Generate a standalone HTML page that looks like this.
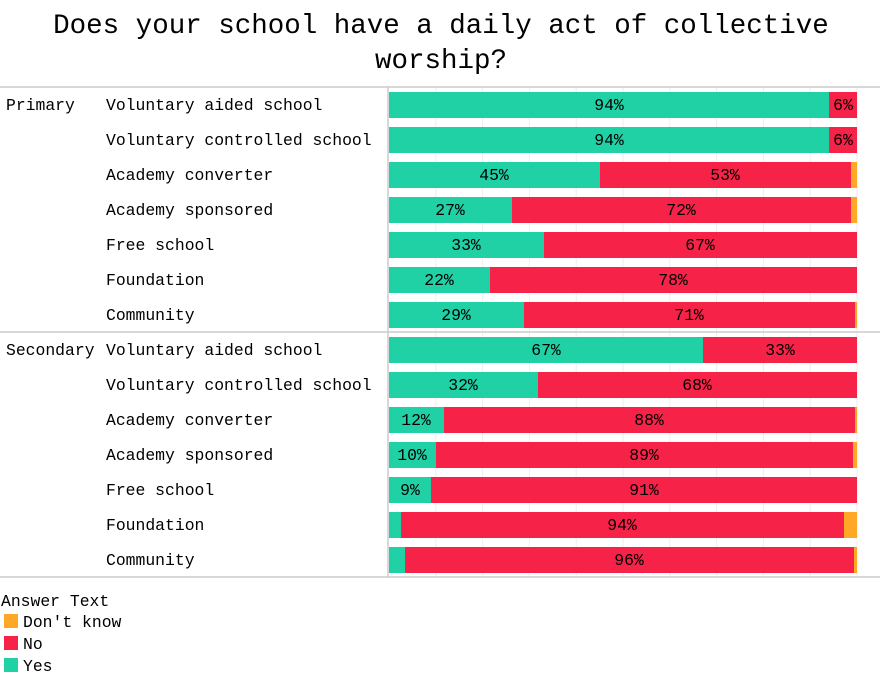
<!DOCTYPE html>
<html><head><meta charset="utf-8"><style>
html,body{margin:0;padding:0;background:#fff;}
svg{display:block;font-family:"Liberation Mono","DejaVu Sans Mono",monospace;}
</style></head><body>
<svg width="882" height="677" xmlns="http://www.w3.org/2000/svg">
<text x="441" y="33" font-size="27.5" text-anchor="middle" fill="#000">Does your school have a daily act of collective</text>
<text x="441" y="68" font-size="27.5" text-anchor="middle" fill="#000">worship?</text>
<g stroke="#eeeeee" stroke-width="1">
<line x1="435.8" y1="88" x2="435.8" y2="577"/><line x1="482.6" y1="88" x2="482.6" y2="577"/>
<line x1="529.4" y1="88" x2="529.4" y2="577"/><line x1="576.2" y1="88" x2="576.2" y2="577"/>
<line x1="623" y1="88" x2="623" y2="577"/><line x1="669.8" y1="88" x2="669.8" y2="577"/>
<line x1="716.6" y1="88" x2="716.6" y2="577"/><line x1="763.4" y1="88" x2="763.4" y2="577"/>
<line x1="810.2" y1="88" x2="810.2" y2="577"/><line x1="857" y1="88" x2="857" y2="577"/>
</g>
<g stroke="#cccccc" stroke-width="1.5">
<line x1="0" y1="87" x2="880" y2="87"/>
<line x1="0" y1="332" x2="880" y2="332"/>
<line x1="0" y1="577" x2="880" y2="577"/>
<line x1="388" y1="87" x2="388" y2="577"/>
</g>
<g font-size="16.4" fill="#000">
<text x="6" y="110">Primary</text>
<text x="6" y="355">Secondary</text>
<text x="106" y="110">Voluntary aided school</text>
<text x="106" y="145">Voluntary controlled school</text>
<text x="106" y="180">Academy converter</text>
<text x="106" y="215">Academy sponsored</text>
<text x="106" y="250">Free school</text>
<text x="106" y="285">Foundation</text>
<text x="106" y="320">Community</text>
<text x="106" y="355">Voluntary aided school</text>
<text x="106" y="390">Voluntary controlled school</text>
<text x="106" y="425">Academy converter</text>
<text x="106" y="460">Academy sponsored</text>
<text x="106" y="495">Free school</text>
<text x="106" y="530">Foundation</text>
<text x="106" y="565">Community</text>
</g>
<g>
<!-- Primary -->
<rect x="389" y="92" width="440" height="26" fill="#1fd1a5"/><rect x="829" y="92" width="28" height="26" fill="#f72248"/>
<rect x="389" y="127" width="440" height="26" fill="#1fd1a5"/><rect x="829" y="127" width="28" height="26" fill="#f72248"/>
<rect x="389" y="162" width="211" height="26" fill="#1fd1a5"/><rect x="600" y="162" width="251" height="26" fill="#f72248"/><rect x="851" y="162" width="6" height="26" fill="#ffa726"/>
<rect x="389" y="197" width="123" height="26" fill="#1fd1a5"/><rect x="512" y="197" width="339" height="26" fill="#f72248"/><rect x="851" y="197" width="6" height="26" fill="#ffa726"/>
<rect x="389" y="232" width="155" height="26" fill="#1fd1a5"/><rect x="544" y="232" width="313" height="26" fill="#f72248"/>
<rect x="389" y="267" width="101" height="26" fill="#1fd1a5"/><rect x="490" y="267" width="367" height="26" fill="#f72248"/>
<rect x="389" y="302" width="135" height="26" fill="#1fd1a5"/><rect x="524" y="302" width="331" height="26" fill="#f72248"/><rect x="855" y="302" width="2" height="26" fill="#ffa726"/>
<!-- Secondary -->
<rect x="389" y="337" width="314" height="26" fill="#1fd1a5"/><rect x="703" y="337" width="154" height="26" fill="#f72248"/>
<rect x="389" y="372" width="149" height="26" fill="#1fd1a5"/><rect x="538" y="372" width="319" height="26" fill="#f72248"/>
<rect x="389" y="407" width="55" height="26" fill="#1fd1a5"/><rect x="444" y="407" width="411" height="26" fill="#f72248"/><rect x="855" y="407" width="2" height="26" fill="#ffa726"/>
<rect x="389" y="442" width="47" height="26" fill="#1fd1a5"/><rect x="436" y="442" width="417" height="26" fill="#f72248"/><rect x="853" y="442" width="4" height="26" fill="#ffa726"/>
<rect x="389" y="477" width="42" height="26" fill="#1fd1a5"/><rect x="431" y="477" width="426" height="26" fill="#f72248"/>
<rect x="389" y="512" width="12" height="26" fill="#1fd1a5"/><rect x="401" y="512" width="443" height="26" fill="#f72248"/><rect x="844" y="512" width="13" height="26" fill="#ffa726"/>
<rect x="389" y="547" width="16" height="26" fill="#1fd1a5"/><rect x="405" y="547" width="449" height="26" fill="#f72248"/><rect x="854" y="547" width="3" height="26" fill="#ffa726"/>
</g>
<g font-size="16.4" fill="#000" text-anchor="middle">
<text x="609" y="110">94%</text><text x="843" y="110">6%</text>
<text x="609" y="145">94%</text><text x="843" y="145">6%</text>
<text x="494" y="180">45%</text><text x="725" y="180">53%</text>
<text x="450" y="215">27%</text><text x="681" y="215">72%</text>
<text x="466" y="250">33%</text><text x="700" y="250">67%</text>
<text x="439" y="285">22%</text><text x="673" y="285">78%</text>
<text x="456" y="320">29%</text><text x="689" y="320">71%</text>
<text x="546" y="355">67%</text><text x="780" y="355">33%</text>
<text x="463" y="390">32%</text><text x="697" y="390">68%</text>
<text x="416" y="425">12%</text><text x="649" y="425">88%</text>
<text x="412" y="460">10%</text><text x="644" y="460">89%</text>
<text x="410" y="495">9%</text><text x="644" y="495">91%</text>
<text x="622" y="530">94%</text>
<text x="629" y="565">96%</text>
</g>
<g font-size="16.4" fill="#000">
<text x="1" y="606">Answer Text</text>
<rect x="4" y="614" width="14" height="14" fill="#ffa726"/><text x="23" y="627">Don't know</text>
<rect x="4" y="636" width="14" height="14" fill="#f72248"/><text x="23" y="649">No</text>
<rect x="4" y="658" width="14" height="14" fill="#1fd1a5"/><text x="23" y="671">Yes</text>
</g>
</svg>
</body></html>
